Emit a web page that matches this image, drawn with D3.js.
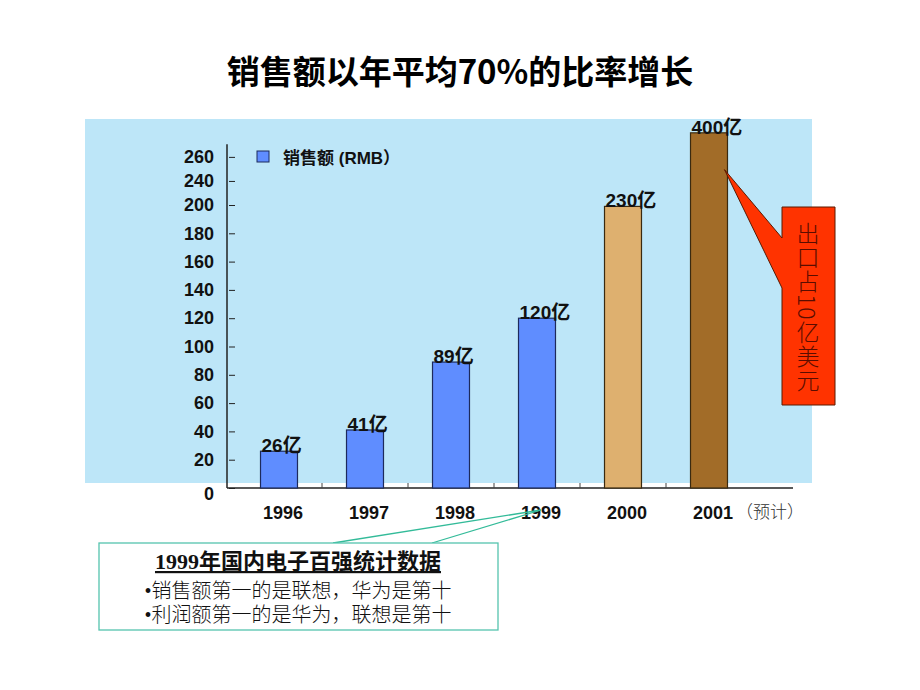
<!DOCTYPE html>
<html>
<head>
<meta charset="utf-8">
<script src="https://cdn.jsdelivr.net/npm/d3@7"></script>
<style>
  body { margin: 0; background: #fff; }
  svg text { font-family: "Liberation Sans", Arial, "Noto Sans CJK SC", sans-serif; }
  .serif { font-family: "Liberation Serif", "Noto Sans CJK SC", serif !important; }
</style>
</head>
<body>
<svg width="920" height="690"></svg>
<script>
const years = ['1996', '1997', '1998', '1999', '2000', '2001'];
const valueLabels = ['26亿', '41亿', '89亿', '120亿', '230亿', '400亿'];
// bar heights as drawn in the picture (axis units); last two are not to scale
const drawnValues = [26, 41, 89, 120, 199, 251];
const barColors = ['#5f8dff', '#5f8dff', '#5f8dff', '#5f8dff', '#deb06f', '#a26c28'];
const tickLabels = [0, 20, 40, 60, 80, 100, 120, 140, 160, 180, 200, 240, 260];
// where the tick labels sit, in axis units (top labels are squeezed)
const tickPlaces = [0, 20, 40, 60, 80, 100, 120, 140, 160, 180, 200, 217, 234];
const noteLines = ['•销售额第一的是联想，华为是第十', '•利润额第一的是华为，联想是第十'];

const svg = d3.select('svg');

const y = d3.scaleLinear().domain([0, 200]).range([488, 205]);
const x = d3.scaleBand().domain(years).range([236, 752]).paddingInner(0.57).paddingOuter(0.285);

// tick label scale mapped onto the bar scale
const yAxisScale = d3.scaleLinear().domain(tickLabels).range(tickPlaces.map(y));

// title
svg.append('text')
  .attr('x', 460).attr('y', 84)
  .attr('text-anchor', 'middle')
  .style('font-family', '"Noto Sans CJK SC", sans-serif')
  .style('font-size', '33px').style('font-weight', 'bold')
  .text('销售额以年平均70%的比率增长');

// plot background
svg.append('rect')
  .attr('x', 85).attr('y', 119)
  .attr('width', 727).attr('height', 364)
  .attr('fill', '#bde6f8');

// y axis
const yAxis = d3.axisLeft(yAxisScale)
  .tickValues(tickLabels)
  .tickSizeInner(-6)
  .tickSizeOuter(0)
  .tickPadding(13);

const gy = svg.append('g')
  .attr('transform', 'translate(227,0)')
  .call(yAxis);
gy.select('.domain').remove();
gy.selectAll('.tick line').attr('stroke', '#222').attr('transform', 'translate(2,0)');
gy.selectAll('.tick text')
  .style('font-size', '18px').style('font-weight', 'bold').attr('fill', '#111');
gy.selectAll('.tick text').filter(d => d === 0).attr('dy', '0.62em');

svg.append('line')
  .attr('x1', 227).attr('x2', 227)
  .attr('y1', y(0)).attr('y2', y(243))
  .attr('stroke', '#222').attr('stroke-width', 1.5);

// x axis line + separators
svg.append('line')
  .attr('x1', 227).attr('x2', 793)
  .attr('y1', y(0)).attr('y2', y(0))
  .attr('stroke', '#222').attr('stroke-width', 1.5);

svg.selectAll('.sep')
  .data(years.slice(1))
  .enter()
  .append('line')
  .attr('class', 'sep')
  .attr('x1', d => x(d) - x.step() * x.paddingInner() / 2)
  .attr('x2', d => x(d) - x.step() * x.paddingInner() / 2)
  .attr('y1', y(0)).attr('y2', y(0) - 5)
  .attr('stroke', '#444');

// bars
svg.selectAll('.bar')
  .data(years)
  .enter()
  .append('rect')
  .attr('class', 'bar')
  .attr('x', d => x(d))
  .attr('y', (d, i) => y(drawnValues[i]))
  .attr('width', x.bandwidth())
  .attr('height', (d, i) => y(0) - y(drawnValues[i]))
  .attr('fill', (d, i) => barColors[i])
  .attr('stroke', (d, i) => i < 4 ? '#1d2a5c' : '#3a2a10')
  .attr('stroke-width', 1.2);

// value labels
svg.selectAll('.vlabel')
  .data(years)
  .enter()
  .append('text')
  .attr('class', 'vlabel')
  .attr('x', d => x(d) + 1)
  .attr('y', (d, i) => y(drawnValues[i]) + 1)
  .style('font-size', '19px').style('font-weight', 'bold')
  .attr('fill', '#111')
  .text((d, i) => valueLabels[i]);

// year labels
svg.selectAll('.xlabel')
  .data(years)
  .enter()
  .append('text')
  .attr('class', 'xlabel')
  .attr('x', d => x(d) + x.bandwidth() / 2 + 4)
  .attr('y', 519)
  .attr('text-anchor', 'middle')
  .style('font-size', '18px').style('font-weight', 'bold')
  .attr('fill', '#111')
  .text(d => d);

svg.append('text')
  .attr('x', x('2001') + x.bandwidth() / 2 + 27)
  .attr('y', 518)
  .style('font-family', '"Noto Sans CJK SC", sans-serif')
  .style('font-size', '17px').style('font-weight', 300)
  .attr('fill', '#333')
  .text('（预计）');

// legend
svg.append('rect')
  .attr('x', 257).attr('y', 151)
  .attr('width', 12).attr('height', 11)
  .attr('fill', '#5f8dff').attr('stroke', '#1d2a5c');
svg.append('text')
  .attr('x', 283).attr('y', 164)
  .style('font-size', '17px').style('font-weight', 'bold')
  .attr('fill', '#111')
  .text('销售额  (RMB）');

// callout for 2001
const tipX = x('2001') + x.bandwidth() - 3, tipY = y(225);
svg.append('path')
  .attr('d', `M${tipX},${tipY} L782,238 L782,207 L835,207 L835,405 L782,405 L782,288 Z`)
  .attr('fill', '#ff3300')
  .attr('stroke', '#5a1a00').attr('stroke-width', 1);

svg.append('text')
  .attr('x', 808).attr('y', 222)
  .style('writing-mode', 'vertical-rl')
  .style('font-family', '"Noto Sans CJK SC", serif')
  .style('font-size', '23px').style('font-weight', 300)
  .style('letter-spacing', '1px')
  .attr('fill', '#5a0d00')
  .text('出口占10亿美元');

// note box for 1999
const noteFromX = x('1999') + x.bandwidth() / 2 + 4;
svg.append('line')
  .attr('x1', noteFromX).attr('y1', 510).attr('x2', 333).attr('y2', 543)
  .attr('stroke', '#33bb99').attr('stroke-width', 1.3);
svg.append('line')
  .attr('x1', noteFromX).attr('y1', 510).attr('x2', 432).attr('y2', 543)
  .attr('stroke', '#33bb99').attr('stroke-width', 1.3);

svg.append('rect')
  .attr('x', 99).attr('y', 543)
  .attr('width', 399).attr('height', 87)
  .attr('fill', '#fff')
  .attr('stroke', '#55c4ae').attr('stroke-width', 1.3);

svg.append('text')
  .attr('class', 'serif')
  .attr('x', 298).attr('y', 569)
  .attr('text-anchor', 'middle')
  .style('font-size', '22px').style('font-weight', 'bold')
  .style('text-decoration', 'underline')
  .attr('fill', '#111')
  .text('1999年国内电子百强统计数据');

svg.selectAll('.note')
  .data(noteLines)
  .enter()
  .append('text')
  .attr('class', 'serif note')
  .attr('x', 298)
  .attr('y', (d, i) => 598 + i * 23.5)
  .attr('text-anchor', 'middle')
  .style('font-size', '20px').style('font-weight', 300)
  .attr('fill', '#111')
  .text(d => d);
</script>
</body>
</html>
